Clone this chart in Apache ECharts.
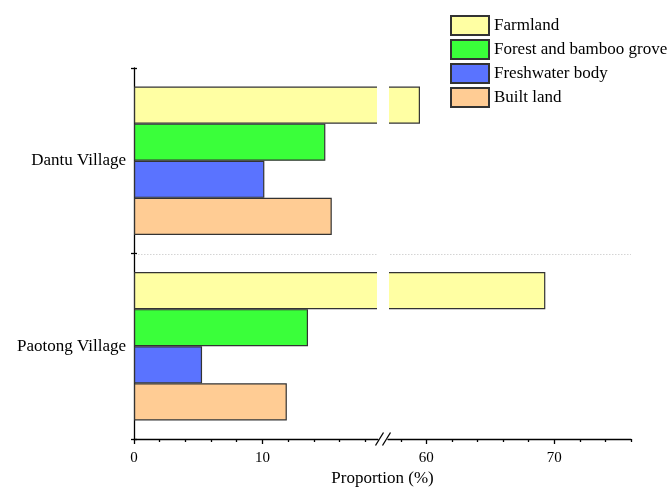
<!DOCTYPE html>
<html><head><meta charset="utf-8">
<script src="https://cdn.jsdelivr.net/npm/echarts@6/dist/echarts.min.js"></script>
<style>html,body{margin:0;padding:0;background:#fff}#c{width:672px;height:494px}</style>
</head><body><div id="c"></div>
<script>
// ---- data ----
const categories = ['Dantu Village', 'Paotong Village'];
const seriesNames = ['Farmland', 'Forest and bamboo grove', 'Freshwater body', 'Built land'];
const farmland = [59.5, 69.3];
const forest = [14.9, 13.55];
const freshwater = [10.15, 5.3];
const builtLand = [15.4, 11.9];
const leftRange = [0, 19];
const rightRange = [57, 76];
const leftMajorTicks = [0, 10];
const leftMinorTicks = [2, 4, 6, 8, 12, 14, 16, 18];
const rightMajorTicks = [60, 70];
const rightMinorTicks = [58, 62, 64, 66, 68, 72, 74, 76];
const axisName = 'Proportion (%)';

// ---- style ----
const colors = ['#FFFFA3', '#3AFF3A', '#5A73FF', '#FFCC94'];
const values = [farmland, forest, freshwater, builtLand];
const FONT = '"Liberation Serif", "Times New Roman", serif';
const W = 672, H = 494;
const GRID_TOP = 68, GRID_BOTTOM = 55;
const LEFT_X = 134, LEFT_W = 244, RIGHT_X = 388, RIGHT_R = 41;

const chart = echarts.init(document.getElementById('c'), null, { renderer: 'canvas' });

function mainX(gridIndex, range, ticks) {
  return {
    type: 'value', gridIndex, min: range[0], max: range[1], position: 'bottom',
    axisLine: { show: true, lineStyle: { color: '#000', width: 1.3 } },
    axisTick: { show: true, customValues: ticks, length: 5, lineStyle: { color: '#000', width: 1.3 } },
    axisLabel: { show: true, customValues: ticks, fontSize: 15, fontFamily: FONT, color: '#000', margin: 12 },
    splitLine: { show: false }
  };
}
function minorX(gridIndex, range, ticks) {
  return {
    type: 'value', gridIndex, min: range[0], max: range[1], position: 'bottom', offset: 0,
    axisLine: { show: false },
    axisTick: { show: true, customValues: ticks, length: 3, lineStyle: { color: '#000', width: 1.3 } },
    axisLabel: { show: false },
    splitLine: { show: false }
  };
}

const series = [];
seriesNames.forEach(function (name, i) {
  series.push({
    name, type: 'bar', xAxisIndex: 0, yAxisIndex: 0, data: values[i],
    barGap: 0, barCategoryGap: '20%', clip: true,
    itemStyle: { color: colors[i], borderColor: '#333', borderWidth: 1.2 }
  });
});
seriesNames.forEach(function (name, i) {
  series.push({
    name, type: 'bar', xAxisIndex: 2, yAxisIndex: 2,
    data: values[i].map(function (v) { return v >= rightRange[0] ? v : '-'; }),
    barGap: 0, barCategoryGap: '20%', clip: true,
    itemStyle: { color: colors[i], borderColor: '#333', borderWidth: 1.2 }
  });
});

chart.setOption({
  animation: false,
  backgroundColor: '#fff',
  grid: [
    { left: LEFT_X, width: LEFT_W, top: GRID_TOP, bottom: GRID_BOTTOM },
    { left: RIGHT_X, right: RIGHT_R, top: GRID_TOP, bottom: GRID_BOTTOM }
  ],
  legend: {
    data: seriesNames, orient: 'vertical', left: 450, top: 15, padding: 0,
    itemWidth: 38, itemHeight: 19, itemGap: 3, icon: 'rect',
    textStyle: { fontSize: 17, fontFamily: FONT, color: '#000' }
  },
  xAxis: [
    mainX(0, leftRange, leftMajorTicks),
    minorX(0, leftRange, leftMinorTicks),
    mainX(1, rightRange, rightMajorTicks),
    minorX(1, rightRange, rightMinorTicks)
  ],
  yAxis: [
    {
      type: 'category', gridIndex: 0, data: categories, inverse: true, position: 'left',
      axisLine: { show: true, lineStyle: { color: '#000', width: 1.3 } },
      axisTick: { show: true, length: 3, lineStyle: { color: '#000', width: 1.3 } },
      axisLabel: { fontSize: 17, fontFamily: FONT, color: '#000', margin: 8 },
      splitLine: { show: false }
    },
    {
      type: 'category', gridIndex: 0, data: categories, inverse: true, position: 'left', offset: 0,
      axisLine: { show: false },
      axisTick: { show: true, inside: true, length: 3, lineStyle: { color: '#000', width: 1.3 } },
      axisLabel: { show: false }, splitLine: { show: false }
    },
    {
      type: 'category', gridIndex: 1, data: categories, inverse: true,
      axisLine: { show: false }, axisTick: { show: false }, axisLabel: { show: false },
      splitLine: { show: false }
    }
  ],
  series
});

// break decoration, category separator and shared axis name, placed from the axes' own scales
const L = chart.convertToPixel({ xAxisIndex: 0 }, leftRange[1]);
const R = chart.convertToPixel({ xAxisIndex: 2 }, rightRange[0]);
const x0 = chart.convertToPixel({ xAxisIndex: 0 }, leftRange[0]);
const x1 = chart.convertToPixel({ xAxisIndex: 2 }, rightRange[1]);
const yA = chart.convertToPixel({ yAxisIndex: 0 }, categories[0]);
const yB = chart.convertToPixel({ yAxisIndex: 0 }, categories[1]);
const ySep = Math.round((yA + yB) / 2) + 0.5;
const axisY = H - GRID_BOTTOM;
const mid = (L + R) / 2;
chart.setOption({
  graphic: [
    { type: 'line', z: 1, shape: { x1: x0 + 1, y1: ySep, x2: x1, y2: ySep }, style: { stroke: '#d4d4d4', lineWidth: 1, lineDash: [1.5, 1.5] } },
    { type: 'rect', z: 100, shape: { x: L - 1, y: GRID_TOP + 2, width: R - L + 2, height: axisY - GRID_TOP - 4 }, style: { fill: '#fff' } },
    { type: 'line', z: 101, shape: { x1: mid - 7.5, y1: axisY + 6.5, x2: mid + 0.5, y2: axisY - 6.5 }, style: { stroke: '#000', lineWidth: 1.3 } },
    { type: 'line', z: 101, shape: { x1: mid - 0.5, y1: axisY + 6.5, x2: mid + 7.5, y2: axisY - 6.5 }, style: { stroke: '#000', lineWidth: 1.3 } },
    { type: 'text', z: 101, x: (x0 + x1) / 2, y: 479, style: { text: axisName, fontSize: 17, fontFamily: FONT, fill: '#000', align: 'center', verticalAlign: 'middle' } }
  ]
});
</script>
</body></html>
